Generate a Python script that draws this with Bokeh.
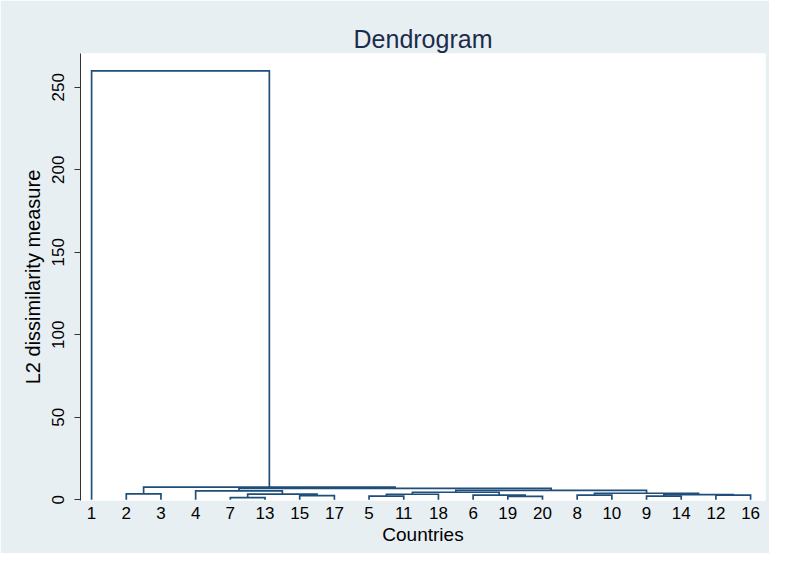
from bokeh.plotting import figure
from bokeh.models import Range1d, FixedTicker, ColumnDataSource
from bokeh.embed import file_html
from bokeh.resources import INLINE

# Leaf order along the x axis (country numbers)
leaf_labels = ["1", "2", "3", "4", "7", "13", "15", "17", "5", "11",
               "18", "6", "19", "20", "8", "10", "9", "14", "12", "16"]

# Linkage: merge k (M1..M19) joins merge_a[k] and merge_b[k] at merge_height[k]
merge_a = ["7", "19", "9", "5", "15", "6", "8", "12", "M3", "M4",
           "M1", "2", "M7", "M10", "4", "M14", "M15", "M12", "1"]
merge_b = ["13", "20", "14", "11", "17", "M2", "10", "16", "M8", "18",
           "M5", "3", "M9", "M6", "M11", "M13", "M16", "M17", "M18"]
merge_height = [1.2, 2.0, 2.1, 2.1, 2.5, 2.7, 2.8, 2.8, 3.1, 3.3,
                3.4, 3.5, 3.9, 4.5, 5.3, 5.6, 6.8, 7.6, 260.0]

y_ticks = [0, 50, 100, 150, 200, 250]

# positions / heights of nodes
pos = {lab: i + 1 for i, lab in enumerate(leaf_labels)}
hgt = {lab: 0.0 for lab in leaf_labels}
xs, ys = [], []
for k, (a, b, h) in enumerate(zip(merge_a, merge_b, merge_height)):
    xa, xb = pos[a], pos[b]
    xs.append([xa, xa, xb, xb])
    ys.append([hgt[a], h, h, hgt[b]])
    name = "M%d" % (k + 1)
    pos[name] = (xa + xb) / 2.0
    hgt[name] = h

FONT = "Liberation Sans"
BG = "#e8eff2"

p = figure(width=769, height=553, output_backend="svg", toolbar_location=None,
           x_range=Range1d(0.68, 20.43), y_range=Range1d(-0.5, 270.5),
           min_border_left=80, min_border_right=4, min_border_top=53,
           min_border_bottom=53, title="Dendrogram")

p.background_fill_color = "white"
p.border_fill_color = BG
p.outline_line_color = None
p.xgrid.grid_line_color = None
p.ygrid.grid_line_color = None

p.title.align = "center"
p.title.text_font = FONT
p.title.text_font_size = "25px"
p.title.text_font_style = "normal"
p.title.text_color = "#1c2c4c"
p.title.standoff = 2

src = ColumnDataSource(dict(xs=xs, ys=ys))
p.multi_line("xs", "ys", source=src, line_color="#1f4e7a", line_width=1.7,
             line_join="miter")

# y axis
ya = p.yaxis[0]
ya.ticker = FixedTicker(ticks=y_ticks)
ya.minor_tick_line_color = None
ya.major_tick_out = 6
ya.major_tick_in = 0
ya.major_label_orientation = "vertical"
ya.major_label_text_font = FONT
ya.major_label_text_font_size = "17px"
ya.major_label_text_color = "#000000"
ya.major_label_standoff = 10
ya.axis_line_color = "#333333"
ya.major_tick_line_color = "#333333"
ya.axis_label = "L2 dissimilarity measure"
ya.axis_label_text_font = FONT
ya.axis_label_text_font_size = "20px"
ya.axis_label_text_font_style = "normal"
ya.axis_label_text_color = "#000000"
ya.axis_label_standoff = 6

# x axis
xa_ = p.xaxis[0]
xa_.ticker = FixedTicker(ticks=list(range(1, len(leaf_labels) + 1)))
xa_.major_label_overrides = {i + 1: lab for i, lab in enumerate(leaf_labels)}
xa_.axis_line_color = None
xa_.major_tick_line_color = None
xa_.minor_tick_line_color = None
xa_.major_label_text_font = FONT
xa_.major_label_text_font_size = "17px"
xa_.major_label_text_color = "#000000"
xa_.major_label_standoff = 0
xa_.axis_label = "Countries"
xa_.axis_label_text_font = FONT
xa_.axis_label_text_font_size = "19px"
xa_.axis_label_text_font_style = "normal"
xa_.axis_label_text_color = "#000000"
xa_.axis_label_standoff = 2

open("out.html", "w").write(file_html(p, INLINE))
